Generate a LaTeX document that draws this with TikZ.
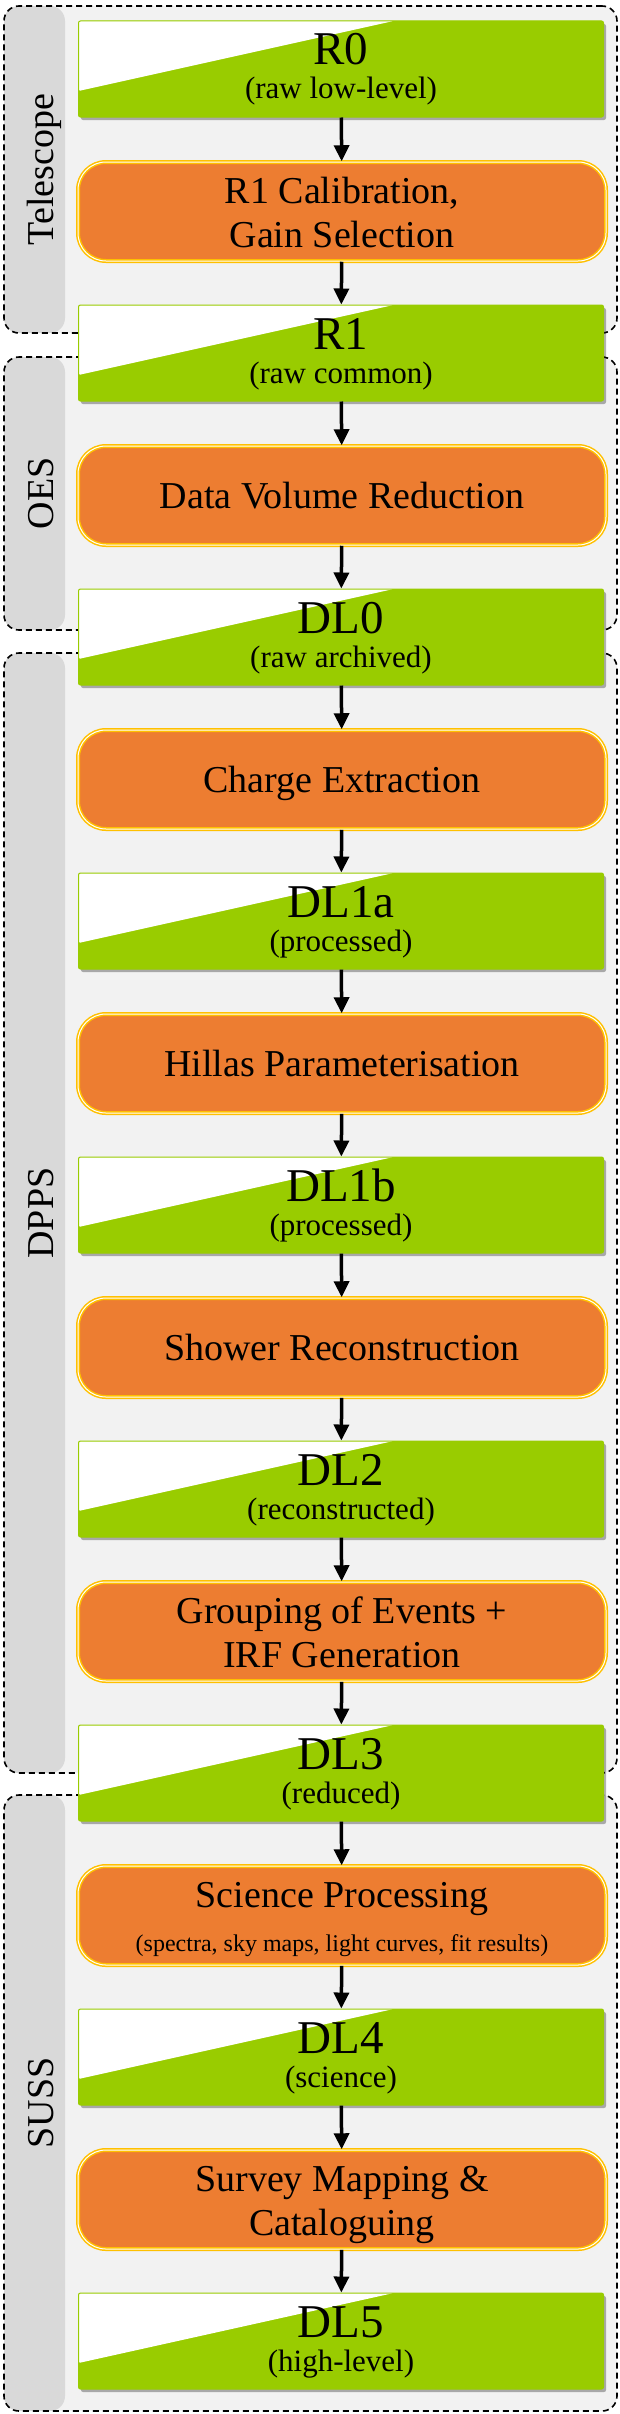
\documentclass[tikz,border=0pt]{standalone}
\usepackage{fontspec}
\setmainfont{Liberation Serif}
\usetikzlibrary{arrows.meta,shadows}

\definecolor{levelgreen}{RGB}{153,204,0}
\definecolor{stepfill}{RGB}{237,125,49}
\definecolor{stepgold}{RGB}{255,192,0}
\definecolor{groupfill}{RGB}{242,242,242}
\definecolor{groupstrip}{RGB}{217,217,217}

\begin{document}
\begin{tikzpicture}[x=1pt,y=-1pt,group/.style={draw,dash pattern=on 6pt off 4pt,line width=1.6pt,rounded corners=15pt,fill=groupfill,minimum width=613pt,inner sep=0pt,outer sep=0pt,path picture={\fill[groupstrip] (path picture bounding box.north west) rectangle ([xshift=61pt]path picture bounding box.south west);}},grouplabel/.style={rotate=90,anchor=base,inner sep=0pt,font=\fontsize{38}{44}\selectfont},level/.style={fill=levelgreen,draw=levelgreen,line width=1pt,rounded corners=2pt,minimum width=525pt,minimum height=96pt,inner sep=0pt,drop shadow={shadow xshift=2.5pt,shadow yshift=-3pt,fill=black,opacity=.3},path picture={\fill[white] (path picture bounding box.north west) -- ++(315,0) -- ++(-315,70) -- cycle;}},stepbox/.style={fill=stepfill,draw=stepgold,line width=1.5pt,double=white,double distance=1pt,rounded corners=28pt,minimum width=528pt,minimum height=99pt,inner sep=0pt},lvltitle/.style={anchor=base,inner sep=0pt,font=\fontsize{47}{50}\selectfont},lvlnote/.style={anchor=base,inner sep=0pt,font=\fontsize{31}{36}\selectfont},steptext/.style={anchor=base,inner sep=0pt,font=\fontsize{38}{44}\selectfont},stepnote/.style={anchor=base,inner sep=0pt,font=\fontsize{24}{28}\selectfont},flow/.style={line width=3.5pt,-{Triangle[width=15pt,length=16pt]}}]
\useasboundingbox (0,0) rectangle (620,2414);
% subsystems
\node[group,minimum height=327pt] (telescope) at (310.5,169.5) {};
\node[grouplabel] (telescopelabel) at (53,169.5) {Telescope};
\node[group,minimum height=273pt] (oes) at (310.5,493.5) {};
\node[grouplabel] (oeslabel) at (53,493.5) {OES};
\node[group,minimum height=1120pt] (dpps) at (310.5,1213) {};
\node[grouplabel] (dppslabel) at (53,1213) {DPPS};
\node[group,minimum height=616pt] (suss) at (310.5,2103) {};
\node[grouplabel] (susslabel) at (53,2103) {SUSS};
% data levels
\node[level] (R0) at (341,69) {};
\node[lvltitle] (R0title) at ([yshift=4pt]R0.center) {R0};
\node[lvlnote] (R0note) at ([yshift=-30pt]R0.center) {(raw low-level)};
\node[level] (R1) at (341,353) {};
\node[lvltitle] (R1title) at ([yshift=4pt]R1.center) {R1};
\node[lvlnote] (R1note) at ([yshift=-30pt]R1.center) {(raw common)};
\node[level] (DL0) at (341,637) {};
\node[lvltitle] (DL0title) at ([yshift=4pt]DL0.center) {DL0};
\node[lvlnote] (DL0note) at ([yshift=-30pt]DL0.center) {(raw archived)};
\node[level] (DL1a) at (341,921) {};
\node[lvltitle] (DL1atitle) at ([yshift=4pt]DL1a.center) {DL1a};
\node[lvlnote] (DL1anote) at ([yshift=-30pt]DL1a.center) {(processed)};
\node[level] (DL1b) at (341,1205) {};
\node[lvltitle] (DL1btitle) at ([yshift=4pt]DL1b.center) {DL1b};
\node[lvlnote] (DL1bnote) at ([yshift=-30pt]DL1b.center) {(processed)};
\node[level] (DL2) at (341,1489) {};
\node[lvltitle] (DL2title) at ([yshift=4pt]DL2.center) {DL2};
\node[lvlnote] (DL2note) at ([yshift=-30pt]DL2.center) {(reconstructed)};
\node[level] (DL3) at (341,1773) {};
\node[lvltitle] (DL3title) at ([yshift=4pt]DL3.center) {DL3};
\node[lvlnote] (DL3note) at ([yshift=-30pt]DL3.center) {(reduced)};
\node[level] (DL4) at (341,2057) {};
\node[lvltitle] (DL4title) at ([yshift=4pt]DL4.center) {DL4};
\node[lvlnote] (DL4note) at ([yshift=-30pt]DL4.center) {(science)};
\node[level] (DL5) at (341,2341) {};
\node[lvltitle] (DL5title) at ([yshift=4pt]DL5.center) {DL5};
\node[lvlnote] (DL5note) at ([yshift=-30pt]DL5.center) {(high-level)};
% processing steps
\node[stepbox] (calib) at (342,211.5) {};
\node[steptext] (calibtop) at ([yshift=8pt]calib.center) {R1 Calibration,};
\node[steptext] (calibbot) at ([yshift=-36pt]calib.center) {Gain Selection};
\node[stepbox] (volume) at (342,495.5) {};
\node[steptext] (volumetext) at ([yshift=-13pt]volume.center) {Data Volume Reduction};
\node[stepbox] (charge) at (342,779.5) {};
\node[steptext] (chargetext) at ([yshift=-13pt]charge.center) {Charge Extraction};
\node[stepbox] (hillas) at (342,1063.5) {};
\node[steptext] (hillastext) at ([yshift=-13pt]hillas.center) {Hillas Parameterisation};
\node[stepbox] (shower) at (342,1347.5) {};
\node[steptext] (showertext) at ([yshift=-13pt]shower.center) {Shower Reconstruction};
\node[stepbox] (irf) at (342,1631.5) {};
\node[steptext] (irftop) at ([yshift=8pt]irf.center) {Grouping of Events +};
\node[steptext] (irfbot) at ([yshift=-36pt]irf.center) {IRF Generation};
\node[stepbox] (science) at (342,1915.5) {};
\node[steptext] (sciencetop) at ([yshift=8pt]science.center) {Science Processing};
\node[stepnote] (sciencebot) at ([yshift=-36pt]science.center) {(spectra, sky maps, light curves, fit results)};
\node[stepbox] (survey) at (342,2199.5) {};
\node[steptext] (surveytop) at ([yshift=8pt]survey.center) {Survey Mapping \&};
\node[steptext] (surveybot) at ([yshift=-36pt]survey.center) {Cataloguing};
% flow
\draw[flow] (R0) -- (calib);
\draw[flow] (calib) -- (R1);
\draw[flow] (R1) -- (volume);
\draw[flow] (volume) -- (DL0);
\draw[flow] (DL0) -- (charge);
\draw[flow] (charge) -- (DL1a);
\draw[flow] (DL1a) -- (hillas);
\draw[flow] (hillas) -- (DL1b);
\draw[flow] (DL1b) -- (shower);
\draw[flow] (shower) -- (DL2);
\draw[flow] (DL2) -- (irf);
\draw[flow] (irf) -- (DL3);
\draw[flow] (DL3) -- (science);
\draw[flow] (science) -- (DL4);
\draw[flow] (DL4) -- (survey);
\draw[flow] (survey) -- (DL5);
\end{tikzpicture}
\end{document}
